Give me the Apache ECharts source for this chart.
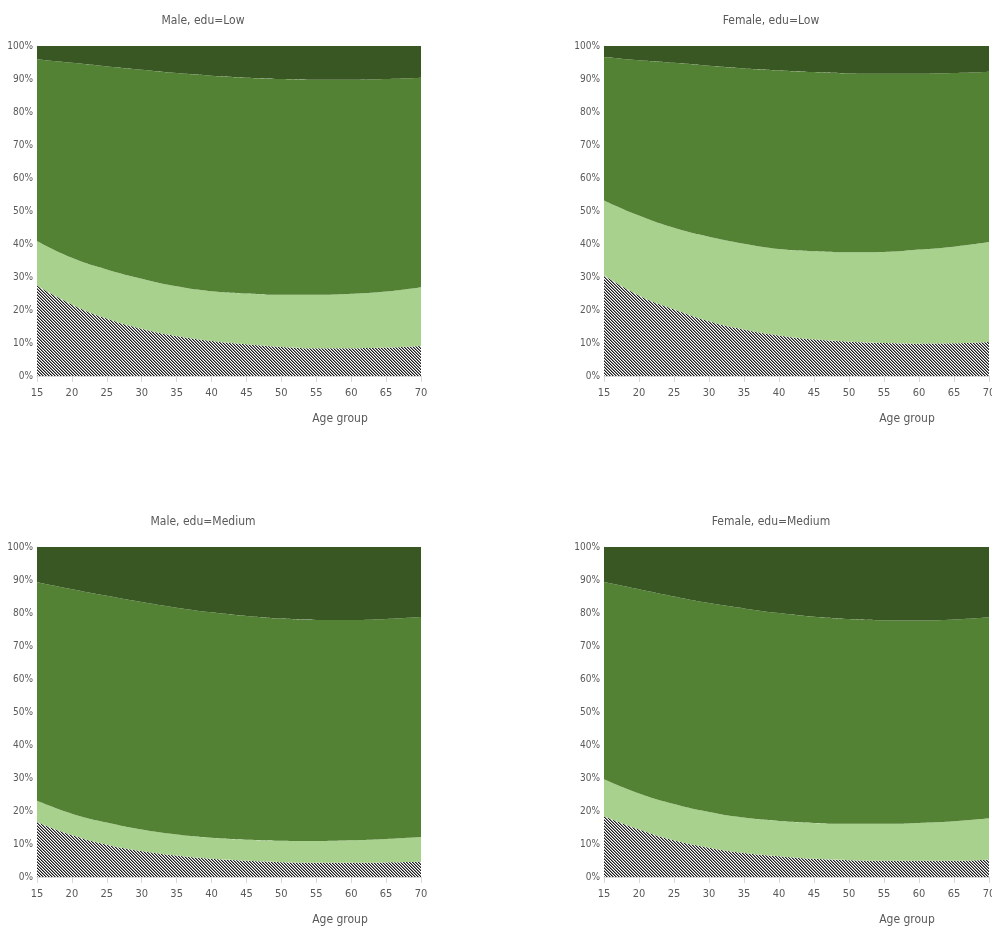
<!DOCTYPE html>
<html><head><meta charset="utf-8">
<script src="https://cdn.jsdelivr.net/npm/echarts@6/dist/echarts.min.js"></script>
<style>html,body{margin:0;padding:0;background:#fff}#c{width:992px;height:929px}</style>
</head><body><div id="c"></div>
<script>
const ages = [15,20,25,30,35,40,45,50,55,60,65,70];
const yTicks = [0,10,20,30,40,50,60,70,80,90,100];
const panelTitles = ['Male, edu=Low','Female, edu=Low','Male, edu=Medium','Female, edu=Medium'];
const xAxisName = 'Age group';

// layer shares (%), bottom to top
const maleLow_L1 = [27.4,21.7,17.4,14.3,12.1,10.6,9.6,8.8,8.4,8.4,8.6,9.1];
const maleLow_L2 = [13.5,14.1,14.9,15.2,15.1,15.1,15.4,15.8,16.2,16.5,17.0,17.8];
const maleLow_L3 = [55.0,59.1,61.5,63.3,64.6,65.3,65.4,65.4,65.2,64.9,64.4,63.5];
const maleLow_L4 = [4.1,5.1,6.2,7.2,8.2,9.0,9.6,10.0,10.2,10.2,10.0,9.6];

const femaleLow_L1 = [30.5,24.4,20.2,16.6,14.1,12.3,11.1,10.4,10.0,9.8,9.9,10.3];
const femaleLow_L2 = [22.7,24.2,24.7,25.6,26.0,26.2,26.7,27.1,27.6,28.5,29.3,30.3];
const femaleLow_L3 = [43.5,47.1,50.0,51.8,53.1,54.1,54.3,54.2,54.0,53.3,52.6,51.6];
const femaleLow_L4 = [3.3,4.3,5.1,6.0,6.8,7.4,7.9,8.3,8.4,8.4,8.2,7.8];

const maleMed_L1 = [16.7,12.7,9.8,7.9,6.5,5.5,4.9,4.5,4.3,4.3,4.4,4.6];
const maleMed_L2 = [6.4,6.5,6.7,6.5,6.4,6.4,6.4,6.5,6.6,6.8,7.1,7.5];
const maleMed_L3 = [66.2,68.0,68.7,68.9,68.7,68.3,67.8,67.3,67.0,66.8,66.7,66.7];
const maleMed_L4 = [10.7,12.8,14.8,16.7,18.4,19.8,20.9,21.7,22.1,22.1,21.8,21.2];

const femaleMed_L1 = [18.4,14.4,11.1,8.9,7.3,6.3,5.5,5.1,4.9,4.9,4.9,5.3];
const femaleMed_L2 = [11.2,10.9,11.0,10.8,10.7,10.7,10.9,11.0,11.2,11.5,12.0,12.5];
const femaleMed_L3 = [59.8,61.9,62.9,63.3,63.4,63.0,62.5,62.1,61.7,61.3,61.1,60.9];
const femaleMed_L4 = [10.6,12.8,15.0,17.0,18.6,20.0,21.1,21.8,22.2,22.3,22.0,21.3];

const panels = [
  [maleLow_L1, maleLow_L2, maleLow_L3, maleLow_L4],
  [femaleLow_L1, femaleLow_L2, femaleLow_L3, femaleLow_L4],
  [maleMed_L1, maleMed_L2, maleMed_L3, maleMed_L4],
  [femaleMed_L1, femaleMed_L2, femaleMed_L3, femaleMed_L4]
];

// fine diagonal hatch pattern
const pc = document.createElement('canvas');
pc.width = 3; pc.height = 3;
const pctx = pc.getContext('2d');
const shades = ['#1e1e1e', '#8a8a8a', '#ffffff'];
for (let x=0;x<3;x++) for (let y=0;y<3;y++) {
  pctx.fillStyle = shades[((x - y) % 3 + 3) % 3];
  pctx.fillRect(x,y,1,1);
}

const layerColors = [{image: pc, repeat: 'repeat'}, '#A9D18E', '#548235', '#385723'];

const grids = [
  {left:37, top:46, width:384, height:330, outerBoundsMode:'none', containLabel:false},
  {left:604, top:46, width:385, height:330, outerBoundsMode:'none', containLabel:false},
  {left:37, top:547, width:384, height:330, outerBoundsMode:'none', containLabel:false},
  {left:604, top:547, width:385, height:330, outerBoundsMode:'none', containLabel:false}
];
const titlePos = [[203,21],[771,21],[203,522],[771,522]];
const namePos = [[340,419],[907,419],[340,920],[907,920]];

const font = '"Liberation Sans Narrow","DejaVu Sans Condensed","Liberation Sans",sans-serif';
const textColor = '#595959';

const xAxes = [], yAxes = [], series = [], graphics = [];
grids.forEach((g,i) => {
  xAxes.push({
    type:'category', gridIndex:i, data: ages.map(String), boundaryGap:false,
    axisLine:{show:true, lineStyle:{color:'#d9d9d9'}},
    axisTick:{show:true, length:6, interval:0, lineStyle:{color:'#d9d9d9'}},
    axisLabel:{color:textColor, fontFamily:font, fontSize:11, margin:12, interval:0},
    splitLine:{show:false}
  });
  yAxes.push({
    type:'value', gridIndex:i, min:yTicks[0], max:yTicks[yTicks.length-1], interval:10,
    axisLine:{show:true, lineStyle:{color:'#d9d9d9'}},
    axisTick:{show:false},
    axisLabel:{color:textColor, fontFamily:font, fontSize:10, margin:4, formatter:'{value}%'},
    splitLine:{show:false}
  });
  panels[i].forEach((vals,k) => {
    series.push({
      type:'line', xAxisIndex:i, yAxisIndex:i, stack:'p'+i,
      data: vals,
      smooth:true, symbol:'none', lineStyle:{width:0},
      areaStyle:{color:layerColors[k], opacity:1},
      z: 2
    });
  });
  graphics.push({type:'text', x:titlePos[i][0], y:titlePos[i][1],
    style:{text:panelTitles[i], font:'12px '+font, fill:textColor, textAlign:'center', textVerticalAlign:'middle'}});
  graphics.push({type:'text', x:namePos[i][0], y:namePos[i][1],
    style:{text:xAxisName, font:'12px '+font, fill:textColor, textAlign:'center', textVerticalAlign:'middle'}});
});

const chart = echarts.init(document.getElementById('c'), null, {renderer:'canvas'});
chart.setOption({
  animation:false,
  backgroundColor:'#ffffff',
  grid: grids,
  xAxis: xAxes,
  yAxis: yAxes,
  series: series,
  graphic: graphics
});
</script></body></html>
